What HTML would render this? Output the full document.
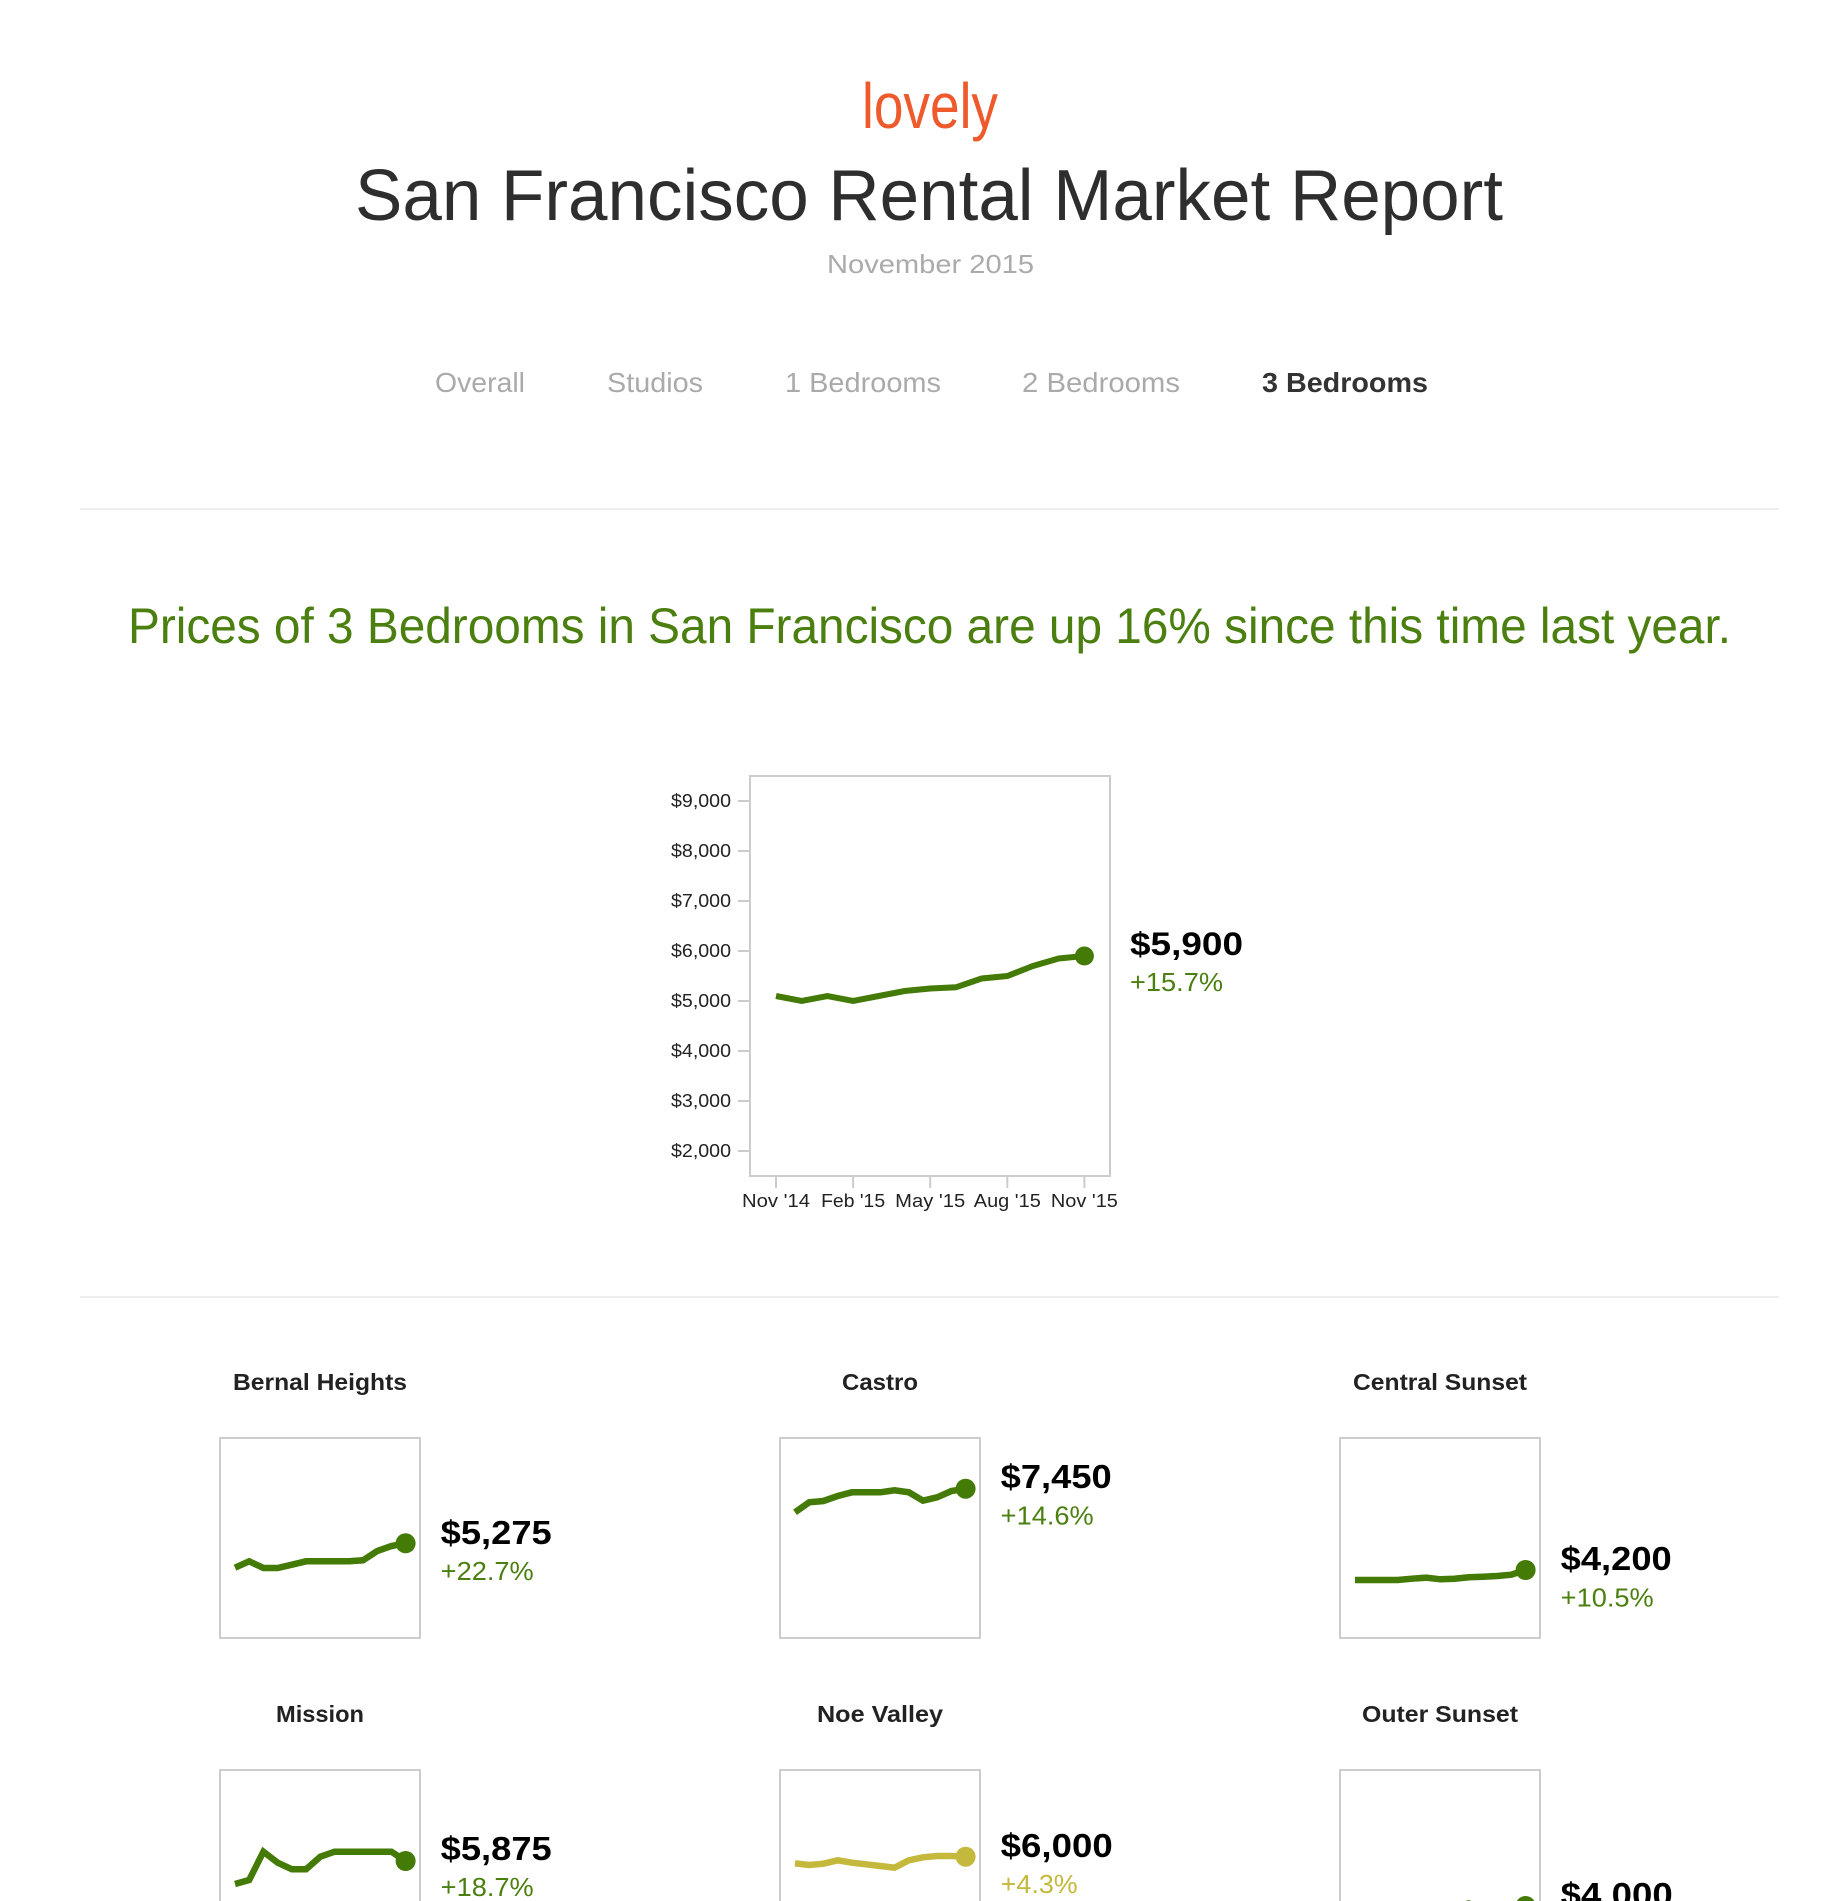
<!DOCTYPE html>
<html>
<head>
<meta charset="utf-8">
<style>
html,body{margin:0;padding:0;background:#fff;}
svg{display:block}
</style>
</head>
<body>
<svg width="1836" height="1901" viewBox="0 0 1836 1901" font-family="'Liberation Sans', sans-serif">
  <rect x="0" y="0" width="1836" height="1901" fill="#fff"/>

  <!-- Logo -->
  <text x="862" y="128" font-size="64" fill="#ef5a2d" textLength="136" lengthAdjust="spacingAndGlyphs">lovely</text>

  <!-- Title -->
  <text x="355" y="220" font-size="72" fill="#2e2e2e" textLength="1148" lengthAdjust="spacingAndGlyphs">San Francisco Rental Market Report</text>
  <text x="827" y="273" font-size="26" fill="#ababab" textLength="207" lengthAdjust="spacingAndGlyphs">November 2015</text>

  <!-- Nav -->
  <g font-size="28" fill="#aaaaaa">
    <text x="435" y="392" textLength="90" lengthAdjust="spacingAndGlyphs">Overall</text>
    <text x="607" y="392" textLength="96" lengthAdjust="spacingAndGlyphs">Studios</text>
    <text x="785" y="392" textLength="156" lengthAdjust="spacingAndGlyphs">1 Bedrooms</text>
    <text x="1022" y="392" textLength="158" lengthAdjust="spacingAndGlyphs">2 Bedrooms</text>
  </g>
  <text x="1262" y="392" font-size="28" font-weight="bold" fill="#333" textLength="166" lengthAdjust="spacingAndGlyphs">3 Bedrooms</text>

  <!-- Divider 1 -->
  <rect x="80" y="508" width="1699" height="2" fill="#eeeeee"/>

  <!-- Headline -->
  <text x="128" y="643" font-size="50" fill="#4b7f10" textLength="1603" lengthAdjust="spacingAndGlyphs">Prices of 3 Bedrooms in San Francisco are up 16% since this time last year.</text>

  <!-- Main chart -->
  <rect x="750" y="776" width="360" height="400" fill="none" stroke="#cccccc" stroke-width="2"/>
  <g stroke="#cccccc" stroke-width="2">
    <line x1="738" y1="801" x2="750" y2="801"/>
    <line x1="738" y1="851" x2="750" y2="851"/>
    <line x1="738" y1="901" x2="750" y2="901"/>
    <line x1="738" y1="951" x2="750" y2="951"/>
    <line x1="738" y1="1001" x2="750" y2="1001"/>
    <line x1="738" y1="1051" x2="750" y2="1051"/>
    <line x1="738" y1="1101" x2="750" y2="1101"/>
    <line x1="738" y1="1151" x2="750" y2="1151"/>
    <line x1="776" y1="1176" x2="776" y2="1188"/>
    <line x1="853.1" y1="1176" x2="853.1" y2="1188"/>
    <line x1="930.2" y1="1176" x2="930.2" y2="1188"/>
    <line x1="1007.3" y1="1176" x2="1007.3" y2="1188"/>
    <line x1="1084.4" y1="1176" x2="1084.4" y2="1188"/>
  </g>
  <g font-size="18" fill="#222" text-anchor="end">
    <text x="731" y="807" textLength="60" lengthAdjust="spacingAndGlyphs">$9,000</text>
    <text x="731" y="857" textLength="60" lengthAdjust="spacingAndGlyphs">$8,000</text>
    <text x="731" y="907" textLength="60" lengthAdjust="spacingAndGlyphs">$7,000</text>
    <text x="731" y="957" textLength="60" lengthAdjust="spacingAndGlyphs">$6,000</text>
    <text x="731" y="1007" textLength="60" lengthAdjust="spacingAndGlyphs">$5,000</text>
    <text x="731" y="1057" textLength="60" lengthAdjust="spacingAndGlyphs">$4,000</text>
    <text x="731" y="1107" textLength="60" lengthAdjust="spacingAndGlyphs">$3,000</text>
    <text x="731" y="1157" textLength="60" lengthAdjust="spacingAndGlyphs">$2,000</text>
  </g>
  <g font-size="18" fill="#222" text-anchor="middle">
    <text x="776" y="1207" textLength="68" lengthAdjust="spacingAndGlyphs">Nov '14</text>
    <text x="853.1" y="1207" textLength="64" lengthAdjust="spacingAndGlyphs">Feb '15</text>
    <text x="930.2" y="1207" textLength="70" lengthAdjust="spacingAndGlyphs">May '15</text>
    <text x="1007.3" y="1207" textLength="67" lengthAdjust="spacingAndGlyphs">Aug '15</text>
    <text x="1084.4" y="1207" textLength="67" lengthAdjust="spacingAndGlyphs">Nov '15</text>
  </g>
  <polyline fill="none" stroke="#447a06" stroke-width="6"
    points="776,996 801.7,1001 827.4,996 853.1,1001 878.8,996 904.5,991 930.2,988.5 955.9,987.3 981.6,978.5 1007.3,976 1033,966 1058.7,958.5 1084.4,956"/>
  <circle cx="1084.4" cy="956" r="9.5" fill="#447a06"/>
  <text x="1130" y="955" font-size="32" font-weight="bold" fill="#000" textLength="113" lengthAdjust="spacingAndGlyphs">$5,900</text>
  <text x="1130" y="991" font-size="26" fill="#4b7f10" textLength="93" lengthAdjust="spacingAndGlyphs">+15.7%</text>

  <!-- Divider 2 -->
  <rect x="80" y="1296" width="1699" height="2" fill="#eeeeee"/>

  <!-- Small multiples: row 1 -->
  <g transform="translate(220,0)">
    <text x="100" y="1390" font-size="23" font-weight="bold" fill="#222" text-anchor="middle" textLength="174" lengthAdjust="spacingAndGlyphs">Bernal Heights</text>
    <rect x="0" y="1438" width="200" height="200" fill="none" stroke="#cccccc" stroke-width="2"/>
    <polyline fill="none" stroke="#447a06" stroke-width="6.5"
      points="15,1567.7 29.2,1561.3 43.4,1568 57.7,1568 71.9,1564.7 86.1,1561.3 100.3,1561.3 114.5,1561.3 128.8,1561.3 143,1560.3 157.2,1551 171.4,1546 185.6,1543.3"/>
    <circle cx="185.6" cy="1543.3" r="10" fill="#447a06"/>
    <text x="220.7" y="1544" font-size="33" font-weight="bold" fill="#000" textLength="111" lengthAdjust="spacingAndGlyphs">$5,275</text>
    <text x="220.7" y="1580" font-size="26" fill="#4b7f10" textLength="93" lengthAdjust="spacingAndGlyphs">+22.7%</text>
  </g>
  <g transform="translate(780,0)">
    <text x="100" y="1390" font-size="23" font-weight="bold" fill="#222" text-anchor="middle" textLength="76" lengthAdjust="spacingAndGlyphs">Castro</text>
    <rect x="0" y="1438" width="200" height="200" fill="none" stroke="#cccccc" stroke-width="2"/>
    <polyline fill="none" stroke="#447a06" stroke-width="6.5"
      points="15,1512.3 29.2,1502.3 43.4,1501 57.7,1496 71.9,1492.3 86.1,1492.3 100.3,1492.3 114.5,1490.3 128.8,1492.3 143,1500.7 157.2,1497.3 171.4,1491 185.6,1488.7"/>
    <circle cx="185.6" cy="1488.7" r="10" fill="#447a06"/>
    <text x="220.7" y="1488" font-size="33" font-weight="bold" fill="#000" textLength="111" lengthAdjust="spacingAndGlyphs">$7,450</text>
    <text x="220.7" y="1524.5" font-size="26" fill="#4b7f10" textLength="93" lengthAdjust="spacingAndGlyphs">+14.6%</text>
  </g>
  <g transform="translate(1340,0)">
    <text x="100" y="1390" font-size="23" font-weight="bold" fill="#222" text-anchor="middle" textLength="174" lengthAdjust="spacingAndGlyphs">Central Sunset</text>
    <rect x="0" y="1438" width="200" height="200" fill="none" stroke="#cccccc" stroke-width="2"/>
    <polyline fill="none" stroke="#447a06" stroke-width="6.5"
      points="15,1580 29.2,1580 43.4,1580 57.7,1580 71.9,1578.7 86.1,1577.7 100.3,1579.3 114.5,1578.7 128.8,1577.3 143,1576.7 157.2,1576 171.4,1574.7 185.6,1570"/>
    <circle cx="185.6" cy="1570" r="10" fill="#447a06"/>
    <text x="220.7" y="1570" font-size="33" font-weight="bold" fill="#000" textLength="111" lengthAdjust="spacingAndGlyphs">$4,200</text>
    <text x="220.7" y="1606.5" font-size="26" fill="#4b7f10" textLength="93" lengthAdjust="spacingAndGlyphs">+10.5%</text>
  </g>

  <!-- Small multiples: row 2 -->
  <g transform="translate(220,0)">
    <text x="100" y="1722" font-size="23" font-weight="bold" fill="#222" text-anchor="middle" textLength="88" lengthAdjust="spacingAndGlyphs">Mission</text>
    <rect x="0" y="1770" width="200" height="200" fill="none" stroke="#cccccc" stroke-width="2"/>
    <polyline fill="none" stroke="#447a06" stroke-width="6.5"
      points="15,1884 29.2,1880 43.4,1851.7 57.7,1862.7 71.9,1869.3 86.1,1869.3 100.3,1856.7 114.5,1851.7 128.8,1851.7 143,1851.7 157.2,1851.7 171.4,1851.7 185.6,1861"/>
    <circle cx="185.6" cy="1861" r="10" fill="#447a06"/>
    <text x="220.7" y="1860" font-size="33" font-weight="bold" fill="#000" textLength="111" lengthAdjust="spacingAndGlyphs">$5,875</text>
    <text x="220.7" y="1896" font-size="26" fill="#4b7f10" textLength="93" lengthAdjust="spacingAndGlyphs">+18.7%</text>
  </g>
  <g transform="translate(780,0)">
    <text x="100" y="1722" font-size="23" font-weight="bold" fill="#222" text-anchor="middle" textLength="126" lengthAdjust="spacingAndGlyphs">Noe Valley</text>
    <rect x="0" y="1770" width="200" height="200" fill="none" stroke="#cccccc" stroke-width="2"/>
    <polyline fill="none" stroke="#c4b93c" stroke-width="6.5"
      points="15,1863.3 29.2,1865 43.4,1863.7 57.7,1860.3 71.9,1862.7 86.1,1864.3 100.3,1866 114.5,1867.7 128.8,1860.3 143,1857.3 157.2,1856 171.4,1856 185.6,1856.7"/>
    <circle cx="185.6" cy="1856.7" r="10" fill="#c4b93c"/>
    <text x="220.7" y="1857" font-size="33" font-weight="bold" fill="#000" textLength="112" lengthAdjust="spacingAndGlyphs">$6,000</text>
    <text x="220.7" y="1893" font-size="26" fill="#c4b93c" textLength="77" lengthAdjust="spacingAndGlyphs">+4.3%</text>
  </g>
  <g transform="translate(1340,0)">
    <text x="100" y="1722" font-size="23" font-weight="bold" fill="#222" text-anchor="middle" textLength="156" lengthAdjust="spacingAndGlyphs">Outer Sunset</text>
    <rect x="0" y="1770" width="200" height="200" fill="none" stroke="#cccccc" stroke-width="2"/>
    <polyline fill="none" stroke="#447a06" stroke-width="6.5"
      points="15,1916 29.2,1916 43.4,1915 57.7,1915 71.9,1914 86.1,1913 100.3,1912 114.5,1907 128.8,1903.5 143,1908 157.2,1909 171.4,1908 185.6,1906"/>
    <circle cx="185.6" cy="1906" r="10" fill="#447a06"/>
    <text x="220.7" y="1906" font-size="33" font-weight="bold" fill="#000" textLength="112" lengthAdjust="spacingAndGlyphs">$4,000</text>
  </g>
</svg>
</body>
</html>
